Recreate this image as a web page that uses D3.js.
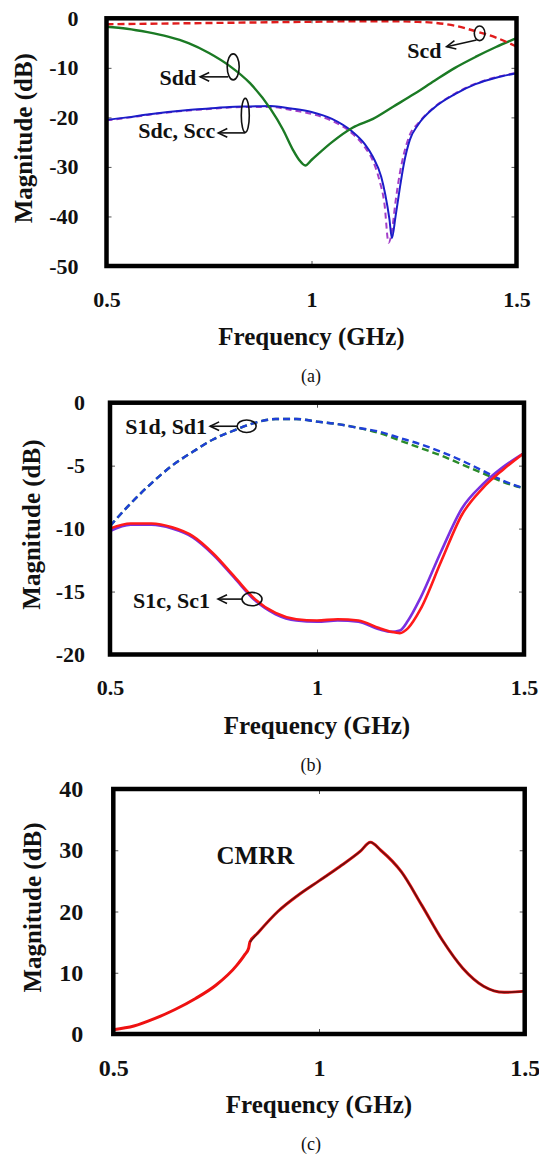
<!DOCTYPE html>
<html>
<head>
<meta charset="utf-8">
<script src="https://cdn.jsdelivr.net/npm/d3@7"></script>
<style>
  html, body { margin: 0; padding: 0; background: #fff; }
  svg { display: block; }
  text { font-family: "Liberation Serif", "Times New Roman", serif; }
</style>
</head>
<body>
<svg id="fig" width="539" height="1155"></svg>
<script>
// ---------- (a) mixed-mode S-parameters ----------
const sddFreq = [0.5,0.55,0.6,0.65,0.7,0.75,0.8,0.85,0.9,0.93,0.955,0.97,0.985,1.0,1.05,1.1,1.15,1.2,1.25,1.3,1.35,1.4,1.45,1.5];
const sddVal  = [-1.7,-2.1,-2.8,-3.7,-5.0,-7.0,-9.6,-13.1,-18.3,-22.4,-26.6,-28.6,-29.7,-28.6,-25.0,-22.1,-20.3,-17.8,-15.3,-12.6,-10.0,-7.8,-5.8,-4.0];

const scdFreq = [0.5,0.6,0.7,0.8,0.9,1.0,1.1,1.2,1.25,1.3,1.35,1.4,1.45,1.5];
const scdVal  = [-1.2,-1.1,-1.0,-0.9,-0.8,-0.7,-0.6,-0.6,-0.7,-0.9,-1.5,-2.6,-3.9,-5.7];

const sdcFreq = [0.5,0.55,0.6,0.65,0.7,0.75,0.8,0.85,0.9,0.95,1.0,1.05,1.1,1.13,1.15,1.17,1.18,1.19,1.196,1.205,1.215,1.225,1.24,1.26,1.3,1.35,1.4,1.45,1.5];
const sdcVal  = [-20.5,-20.0,-19.4,-18.9,-18.5,-18.2,-17.9,-17.8,-17.7,-18.2,-18.9,-20.3,-22.9,-25.4,-28.0,-32.0,-35.6,-40.5,-44.4,-40.0,-34.5,-29.5,-24.5,-21.5,-18.0,-15.3,-13.3,-12.0,-11.1];

const sccFreq = [0.5,0.55,0.6,0.65,0.7,0.75,0.8,0.85,0.9,0.95,1.0,1.05,1.1,1.13,1.15,1.165,1.178,1.188,1.196,1.205,1.215,1.225,1.24,1.26,1.3,1.35,1.4,1.45,1.5];
const sccVal  = [-20.6,-20.1,-19.5,-19.0,-18.6,-18.3,-18.0,-17.9,-17.9,-18.5,-19.3,-20.7,-23.3,-26.0,-28.8,-32.5,-37.5,-45.3,-43.0,-37.0,-31.5,-27.5,-23.5,-21.2,-17.9,-15.2,-13.2,-11.9,-11.0];

// ---------- (b) single-ended to mixed-mode transmission ----------
const s1dFreq = [0.5,0.55,0.6,0.65,0.7,0.75,0.8,0.85,0.9,0.95,1.0,1.05,1.1,1.15,1.2,1.25,1.3,1.35,1.4,1.45,1.5];
const s1dVal  = [-9.8,-8.0,-6.4,-5.0,-3.9,-2.9,-2.2,-1.6,-1.3,-1.3,-1.5,-1.7,-2.0,-2.3,-2.8,-3.3,-3.9,-4.6,-5.4,-6.2,-6.8];
const sd1Val  = [-9.8,-8.0,-6.4,-5.0,-3.9,-2.9,-2.2,-1.6,-1.3,-1.3,-1.5,-1.7,-2.0,-2.4,-3.0,-3.6,-4.2,-4.9,-5.6,-6.3,-6.8];

const s1cFreq = [0.5,0.55,0.6,0.65,0.7,0.75,0.8,0.85,0.9,0.95,1.0,1.05,1.1,1.15,1.18,1.2,1.22,1.25,1.3,1.35,1.4,1.45,1.5];
const s1cVal  = [-10.0,-9.6,-9.6,-9.9,-10.6,-12.0,-13.8,-15.6,-16.7,-17.2,-17.3,-17.2,-17.3,-17.9,-18.2,-18.3,-17.9,-16.4,-12.6,-8.9,-6.8,-5.3,-4.0];
const sc1Val  = [-10.2,-9.7,-9.7,-10.0,-10.7,-12.1,-13.9,-15.7,-16.8,-17.3,-17.4,-17.3,-17.4,-18.0,-18.2,-18.1,-17.3,-15.5,-11.8,-8.4,-6.5,-5.1,-4.0];

// ---------- (c) common-mode rejection ratio ----------
const cmrrFreq = [0.5,0.55,0.6,0.65,0.7,0.75,0.8,0.82,0.829,0.832,0.85,0.9,0.95,1.0,1.05,1.1,1.125,1.15,1.2,1.25,1.3,1.35,1.4,1.45,1.5];
const cmrrVal  = [0.7,1.3,2.5,4.0,5.8,8.0,11.2,13.0,14.0,15.0,16.4,20.0,22.7,25.0,27.3,29.8,31.3,30.0,26.5,21.0,15.3,10.7,7.8,6.8,7.0];

// ---------- axis ticks ----------
const freqTicks = [0.5, 1, 1.5];
const ticksA = [0, -10, -20, -30, -40, -50];
const ticksB = [0, -5, -10, -15, -20];
const ticksC = [0, 10, 20, 30, 40];

const svg = d3.select("#fig");
const zip = (f, v) => f.map((d, i) => ({ f: d, v: v[i] }));

function panel(cfg) {
  const x = d3.scaleLinear().domain([0.5, 1.5]).range([cfg.left, cfg.right]);
  const y = d3.scaleLinear().domain(cfg.yDomain).range([cfg.bottom, cfg.top]);
  const g = svg.append("g");
  const clipId = "clip-" + cfg.id;
  g.append("clipPath").attr("id", clipId).append("rect")
    .attr("x", cfg.left).attr("y", cfg.top)
    .attr("width", cfg.right - cfg.left).attr("height", cfg.bottom - cfg.top);

  const fmt = d => String(d);
  const tickStyle = sel => {
    sel.select(".domain").remove();
    sel.selectAll(".tick line").attr("stroke", "#555").attr("stroke-width", 1);
    sel.selectAll("text").attr("font-size", cfg.tickFont).attr("font-weight", "bold")
      .attr("fill", "#111").attr("font-family", "Liberation Serif, Times New Roman, serif");
  };

  g.append("g").attr("transform", `translate(${cfg.left},0)`)
    .call(d3.axisLeft(y).tickValues(cfg.yTicks).tickFormat(fmt).tickSizeInner(-5).tickSizeOuter(0).tickPadding(cfg.yPad))
    .call(tickStyle);
  g.append("g").attr("transform", `translate(${cfg.right},0)`)
    .call(d3.axisRight(y).tickValues(cfg.yTicks).tickFormat("").tickSizeInner(-5).tickSizeOuter(0))
    .call(tickStyle);
  g.append("g").attr("transform", `translate(0,${cfg.bottom})`)
    .call(d3.axisBottom(x).tickValues(freqTicks).tickFormat(fmt).tickSizeInner(-5).tickSizeOuter(0).tickPadding(25))
    .call(tickStyle);
  g.append("g").attr("transform", `translate(0,${cfg.top})`)
    .call(d3.axisTop(x).tickValues(freqTicks).tickFormat("").tickSizeInner(-5).tickSizeOuter(0))
    .call(tickStyle);

  const line = d3.line().x(d => x(d.f)).y(d => y(d.v)).curve(d3.curveMonotoneX);
  const plot = g.append("g").attr("clip-path", `url(#${clipId})`);
  cfg.series.forEach(s => {
    plot.append("path").datum(s.data)
      .attr("d", line).attr("fill", "none")
      .attr("stroke", s.color).attr("stroke-width", s.width)
      .attr("stroke-dasharray", s.dash || null)
      .attr("stroke-linejoin", "round").attr("stroke-linecap", "butt");
  });

  // frame
  g.append("rect").attr("x", cfg.left).attr("y", cfg.top)
    .attr("width", cfg.right - cfg.left).attr("height", cfg.bottom - cfg.top)
    .attr("fill", "none").attr("stroke", "#000").attr("stroke-width", 4.5);

  // axis titles
  g.append("text")
    .attr("transform", `translate(${cfg.yTitleX},${(cfg.top + cfg.bottom) / 2 - 4}) rotate(-90)`)
    .attr("text-anchor", "middle").attr("font-size", 25).attr("font-weight", "bold").attr("fill", "#111")
    .text("Magnitude (dB)");
  g.append("text")
    .attr("x", (cfg.left + cfg.right) / 2).attr("y", cfg.bottom + 79)
    .attr("text-anchor", "middle").attr("font-size", 25).attr("font-weight", "bold").attr("fill", "#111")
    .text("Frequency (GHz)");
  g.append("text")
    .attr("x", 311).attr("y", cfg.bottom + 116)
    .attr("text-anchor", "middle").attr("font-size", 18).attr("fill", "#111")
    .text(cfg.caption);

  // callouts: ellipse around the traces, arrow pointing to the label
  (cfg.notes || []).forEach(n => {
    const cx = x(n.f), cy = y(n.v);
    const a = g.append("g").attr("stroke", "#111").attr("stroke-width", 1.6).attr("fill", "none");
    a.append("ellipse").attr("cx", cx).attr("cy", cy).attr("rx", n.rx).attr("ry", n.ry);
    const x1 = cx + n.arrow[0], y1 = cy + n.arrow[1], x2 = cx + n.arrow[2], y2 = cy + n.arrow[3];
    a.append("line").attr("x1", x1).attr("y1", y1).attr("x2", x2).attr("y2", y2);
    const ang = Math.atan2(y2 - y1, x2 - x1);
    const h = 10, w = 0.45;
    a.append("path").attr("d",
      `M${x2 + Math.cos(ang + Math.PI - w) * h},${y2 + Math.sin(ang + Math.PI - w) * h}` +
      `L${x2},${y2}L${x2 + Math.cos(ang + Math.PI + w) * h},${y2 + Math.sin(ang + Math.PI + w) * h}`);
    g.append("text").attr("x", cx + n.text[0]).attr("y", cy + n.text[1])
      .attr("text-anchor", "end").attr("font-size", 22).attr("font-weight", "bold").attr("fill", "#111")
      .text(n.label);
  });

  (cfg.labels || []).forEach(l => {
    g.append("text").attr("x", x(l.f)).attr("y", y(l.v))
      .attr("font-size", 25).attr("font-weight", "bold").attr("fill", "#111").text(l.label);
  });
}

panel({
  id: "a", left: 106.5, right: 516.5, top: 18.3, bottom: 266,
  yDomain: [-50, 0], yTicks: ticksA, yPad: 28, tickFont: 22, yTitleX: 32, caption: "(a)",
  series: [
    { data: zip(sccFreq, sccVal), color: "#a33fc8", width: 2, dash: "6,4" },
    { data: zip(sdcFreq, sdcVal), color: "#1c1cc8", width: 2 },
    { data: zip(sddFreq, sddVal), color: "#1b7a24", width: 2.4 },
    { data: zip(scdFreq, scdVal), color: "#e01c1c", width: 2.4, dash: "7,4" }
  ],
  notes: [
    { label: "Sdd", f: 0.809, v: -9.8, rx: 6, ry: 13, arrow: [-5, 10, -33, 10], text: [-37, 18.5] },
    { label: "Sdc, Scc", f: 0.8385, v: -19.6, rx: 4, ry: 17, arrow: [0, 17.5, -27, 17.5], text: [-30, 22.5] },
    { label: "Scd", f: 1.41, v: -3.03, rx: 5.3, ry: 7.3, arrow: [-3, 6.7, -33, 13.4], text: [-38, 24.7] }
  ]
});

panel({
  id: "b", left: 110, right: 524, top: 402.7, bottom: 654.5,
  yDomain: [-20, 0], yTicks: ticksB, yPad: 25, tickFont: 22, yTitleX: 40, caption: "(b)",
  series: [
    { data: zip(s1dFreq, sd1Val), color: "#2a8a2a", width: 2.4, dash: "7,4" },
    { data: zip(s1dFreq, s1dVal), color: "#1f3fd8", width: 2.4, dash: "7,4" },
    { data: zip(s1cFreq, sc1Val), color: "#7a2fe0", width: 2.6 },
    { data: zip(s1cFreq, s1cVal), color: "#ff1a1a", width: 2.6 }
  ],
  notes: [
    { label: "S1d, Sd1", f: 0.83, v: -1.87, rx: 9.5, ry: 6.3, arrow: [-9.5, 0, -36.5, 0], text: [-39.5, 7.7] },
    { label: "S1c, Sc1", f: 0.843, v: -15.6, rx: 10, ry: 6.7, arrow: [-10, 0, -34, 0], text: [-42, 8.7] }
  ]
});

panel({
  id: "c", left: 113.3, right: 524.7, top: 789, bottom: 1034,
  yDomain: [0, 40], yTicks: ticksC, yPad: 30, tickFont: 24, yTitleX: 41, caption: "(c)",
  series: [
    { data: zip(cmrrFreq, cmrrVal), color: "#ee1111", width: 3 },
    { data: zip(cmrrFreq, cmrrVal).filter(d => d.f >= 0.832), color: "#6a1010", width: 1.6 }
  ],
  labels: [ { label: "CMRR", f: 0.751, v: 27.75 } ]
});
</script>
</body>
</html>
